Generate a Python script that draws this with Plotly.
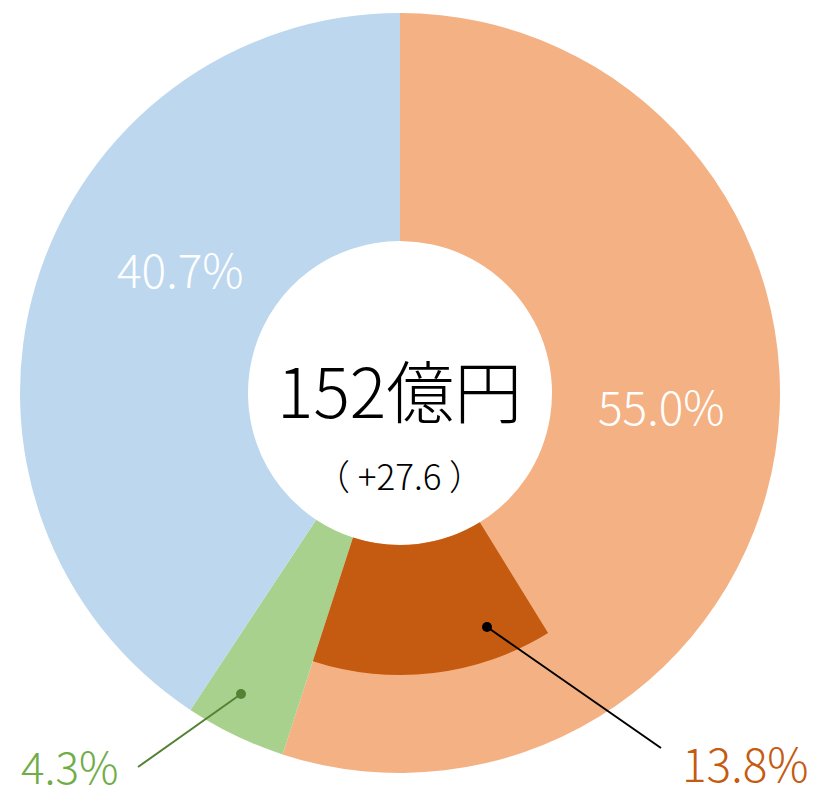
import plotly.graph_objects as go

# ---- data ----
segments = ["A", "B", "C"]
segment_values = [55.0, 4.3, 40.7]          # outer ring, clockwise from top
sub_value = 13.8                            # inner highlighted part of segment A
total_label = "152億円"
delta_label = "（ +27.6 ）"

W, H = 821, 801
CX, CY = 400, 393          # chart centre (px)
R_OUT, R_MID, R_HOLE = 380, 282, 152

ORANGE = "#F4B183"
GREEN = "#A9D18E"
BLUE = "#BDD7EE"
DARK = "#C55A11"
FONT = "Noto Sans CJK JP"


def px(x):
    return x / W


def py(y):
    return 1 - y / H


def dom(r):
    return dict(x=[px(CX - r), px(CX + r)], y=[py(CY + r), py(CY - r)])


fig = go.Figure()

fig.add_trace(go.Pie(
    labels=segments, values=segment_values, sort=False, direction="clockwise",
    rotation=0, hole=R_HOLE / R_OUT, domain=dom(R_OUT),
    marker=dict(colors=[ORANGE, GREEN, BLUE], line=dict(width=0)),
    textinfo="none", hoverinfo="skip", showlegend=False,
))

inner_vals = [segment_values[0] - sub_value, sub_value, segment_values[1] + segment_values[2]]
fig.add_trace(go.Pie(
    labels=["rest", "sub", "other"], values=inner_vals, sort=False, direction="clockwise",
    rotation=0, hole=R_HOLE / R_MID, domain=dom(R_MID),
    marker=dict(colors=["rgba(0,0,0,0)", DARK, "rgba(0,0,0,0)"], line=dict(width=0)),
    textinfo="none", hoverinfo="skip", showlegend=False,
))

ann = [
    (661, 405, f"{segment_values[0]:.1f}%", "white", 46, 300),
    (180, 268, f"{segment_values[2]:.1f}%", "white", 46, 300),
    (70, 765, f"{segment_values[1]:.1f}%", "#70AD47", 44, 300),
    (745, 762, f"{sub_value:.1f}%", DARK, 46, 300),
    (399, 388, total_label, "black", 68, 300),
    (399, 474, delta_label, "black", 35, 300),
]
annotations = [
    dict(x=px(x), y=py(y), xref="paper", yref="paper", text=t, showarrow=False,
         font=dict(family=FONT, size=s, color=c, weight=w), xanchor="center", yanchor="middle")
    for x, y, t, c, s, w in ann
]

shapes = []
for (x0, y0, x1, y1, col) in [(241, 694, 138, 767, "#548235"), (487, 627, 661, 748, "black")]:
    shapes.append(dict(type="line", xref="paper", yref="paper", x0=px(x0), y0=py(y0),
                       x1=px(x1), y1=py(y1), line=dict(color=col, width=2)))
    r = 5
    shapes.append(dict(type="circle", xref="paper", yref="paper", x0=px(x0 - r), y0=py(y0 + r),
                       x1=px(x0 + r), y1=py(y0 - r), fillcolor=col, line=dict(width=0)))

fig.update_layout(
    width=W, height=H, margin=dict(l=0, r=0, t=0, b=0),
    paper_bgcolor="white", plot_bgcolor="white",
    annotations=annotations, shapes=shapes,
)

fig.write_html("out.html", config={"displayModeBar": False},
               post_script="document.body.style.margin='0';document.body.style.overflow='hidden';")
